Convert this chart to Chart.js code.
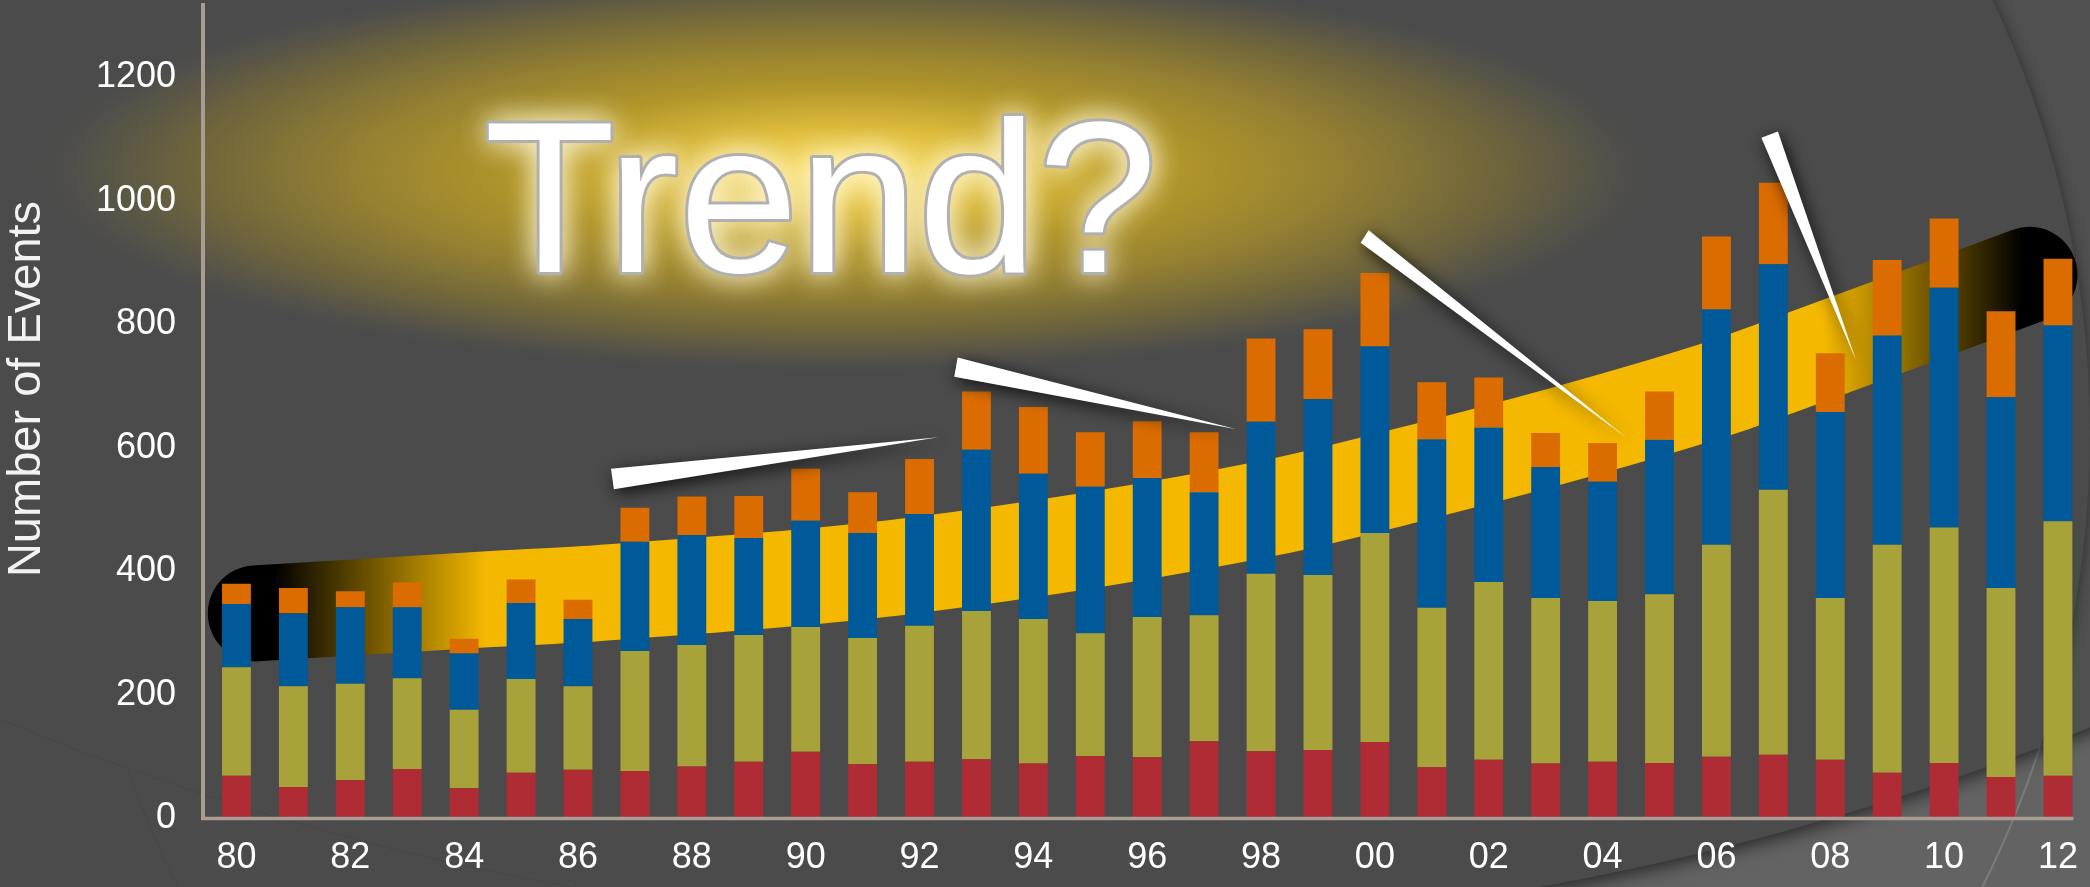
<!DOCTYPE html>
<html>
<head>
<meta charset="utf-8">
<title>Trend?</title>
<script src="https://cdn.jsdelivr.net/npm/chart.js@4.4.1/dist/chart.umd.min.js"></script>
<style>
  html, body { margin: 0; padding: 0; background: #4b4b4b; overflow: hidden; }
  canvas { display: block; }
</style>
</head>
<body>
<canvas id="eventsChart" width="2096" height="887"></canvas>
<script>
const years = ['80','81','82','83','84','85','86','87','88','89',
               '90','91','92','93','94','95','96','97','98','99',
               '00','01','02','03','04','05','06','07','08','09',
               '10','11','12'];

// stacked from the bottom up
const redEvents    = [69, 51, 62, 80, 49, 74, 79, 77, 84, 92, 108, 88, 92, 96, 89, 101, 99, 125, 109, 111, 124, 83, 95, 89, 92, 90, 100, 103, 95, 74, 90, 67, 69];
const oliveEvents  = [176, 163, 156, 147, 127, 152, 135, 194, 197, 205, 202, 204, 220, 240, 234, 199, 227, 204, 287, 283, 338, 258, 288, 268, 260, 273, 343, 429, 262, 369, 381, 306, 412];
const blueEvents   = [102, 118, 124, 115, 91, 123, 109, 177, 178, 157, 172, 170, 181, 261, 235, 237, 225, 199, 246, 285, 302, 273, 250, 212, 193, 250, 381, 365, 301, 339, 388, 309, 317];
const orangeEvents = [33, 41, 26, 40, 24, 38, 31, 55, 62, 68, 84, 66, 89, 94, 108, 88, 92, 97, 135, 113, 119, 92, 81, 55, 63, 78, 118, 132, 95, 122, 112, 139, 108];

const yTicks = [0, 200, 400, 600, 800, 1000, 1200];

// the hand drawn trend band (x = category index, y = events)
const trendX = [0.34, 4.45, 6.36, 11.83, 18.17, 20.54, 23.35, 26.17, 27.11, 31.5];
const trendY = [332, 355, 365, 409, 503, 555, 623, 700, 731, 880];

// callout wedges: two corners of the wide end, then the tip (category index, events)
const wedges = [
  [[6.58, 566], [6.63, 533], [12.33, 617]],
  [[12.67, 746], [12.61, 715], [17.57, 630]],
  [[19.89, 952], [19.75, 932], [24.41, 617]],
  [[26.79, 1102], [27.08, 1112], [28.45, 742]]
];

const bandYellow = '#f4b800';
const axisColor = '#a89d92';
const font = "'Liberation Sans', Arial, sans-serif";

Chart.defaults.font.family = font;

function bandColor(context) {
  const chart = context.chart;
  const { ctx, chartArea, scales } = chart;
  if (!chartArea || !scales.xb) return bandYellow;
  const xb = scales.xb;
  const a = xb.getPixelForValue(-0.5);
  const b = xb.getPixelForValue(32.5);
  const at = v => (xb.getPixelForValue(v) - a) / (b - a);
  const g = ctx.createLinearGradient(a, 0, b, 0);
  g.addColorStop(0, '#000');
  g.addColorStop(at(0.67), '#000');
  g.addColorStop(at(4.38), bandYellow);
  g.addColorStop(at(27.88), bandYellow);
  g.addColorStop(at(31.38), '#000');
  g.addColorStop(1, '#000');
  return g;
}

const backdrop = {
  id: 'backdrop',
  beforeDraw(chart) {
    const { ctx, width, height } = chart;
    ctx.save();
    ctx.fillStyle = '#4b4b4b';
    ctx.fillRect(0, 0, width, height);

    // big slide circle at the right, slightly lighter outside of it
    ctx.save();
    ctx.beginPath();
    ctx.rect(1700, 0, width - 1700, height);
    ctx.arc(1080, 433, 1010, 0, Math.PI * 2);
    ctx.clip('evenodd');
    ctx.fillStyle = '#505050';
    ctx.fillRect(0, 0, width, height);
    ctx.shadowColor = 'rgba(0,0,0,0.45)';
    ctx.shadowBlur = 14;
    ctx.beginPath();
    ctx.arc(1080, 433, 1010, 0, Math.PI * 2);
    ctx.fillStyle = '#4b4b4b';
    ctx.fill();
    ctx.restore();

    // lighter sweep at the bottom right
    ctx.save();
    ctx.beginPath();
    ctx.rect(1400, 0, width - 1400, height);
    ctx.arc(1055, -1815, 2745, 0, Math.PI * 2);
    ctx.clip('evenodd');
    ctx.fillStyle = '#636363';
    ctx.fillRect(0, 0, width, height);
    ctx.strokeStyle = 'rgba(140,140,140,0.6)';
    ctx.lineWidth = 2;
    ctx.beginPath();
    ctx.arc(1080, 433, 1010, 0, Math.PI * 2);
    ctx.stroke();
    ctx.shadowColor = 'rgba(0,0,0,0.6)';
    ctx.shadowBlur = 18;
    ctx.shadowOffsetY = 5;
    ctx.beginPath();
    ctx.arc(1055, -1815, 2745, 0, Math.PI * 2);
    ctx.fillStyle = '#4b4b4b';
    ctx.fill();
    ctx.restore();

    // yellow glow behind the title
    ctx.save();
    ctx.translate(845, 170);
    ctx.scale(4, 1);
    const g = ctx.createRadialGradient(0, 0, 0, 0, 0, 205);
    g.addColorStop(0, 'rgba(255,228,110,1)');
    g.addColorStop(0.2, 'rgba(222,188,60,1)');
    g.addColorStop(0.4, 'rgba(178,150,42,1)');
    g.addColorStop(0.6, 'rgba(148,128,50,1)');
    g.addColorStop(0.8, 'rgba(110,100,60,1)');
    g.addColorStop(0.92, 'rgba(86,84,72,0.9)');
    g.addColorStop(1, 'rgba(75,75,75,0)');
    ctx.fillStyle = g;
    ctx.beginPath();
    ctx.arc(0, 0, 205, 0, Math.PI * 2);
    ctx.fill();
    ctx.restore();

    // title
    ctx.font = '215px ' + font;
    ctx.textBaseline = 'alphabetic';
    ctx.textAlign = 'left';
    ctx.fillStyle = '#ffffff';
    ctx.shadowColor = 'rgba(255,248,215,0.95)';
    ctx.shadowBlur = 30;
    ctx.fillText('Trend?', 484, 272);
    ctx.fillText('Trend?', 484, 272);
    ctx.shadowColor = 'transparent';
    ctx.shadowBlur = 0;
    ctx.lineJoin = 'round';
    ctx.lineWidth = 6;
    ctx.strokeStyle = '#b0b0b0';
    ctx.strokeText('Trend?', 484, 272);
    ctx.fillText('Trend?', 484, 272);

    // y axis title
    ctx.translate(27, 389);
    ctx.rotate(-Math.PI / 2);
    ctx.font = '47px ' + font;
    ctx.textAlign = 'center';
    ctx.textBaseline = 'middle';
    ctx.fillStyle = '#f2f2f2';
    ctx.fillText('Number of Events', 0, 0);
    ctx.restore();
  },
  afterDatasetsDraw(chart) {
    const { ctx, chartArea, scales } = chart;
    const xb = scales.xb, y = scales.y;
    ctx.save();
    wedges.forEach(w => {
      ctx.beginPath();
      w.forEach(([i, v], k) => {
        const px = xb.getPixelForValue(i), py = y.getPixelForValue(v);
        if (k) ctx.lineTo(px, py); else ctx.moveTo(px, py);
      });
      ctx.closePath();
      ctx.shadowColor = 'rgba(0,0,0,0.8)';
      ctx.shadowBlur = 16;
      ctx.shadowOffsetX = 3;
      ctx.shadowOffsetY = 4;
      ctx.fillStyle = '#ffffff';
      ctx.fill();
    });
    ctx.shadowColor = 'transparent';

    const left = chartArea.left - 5;
    const bottom = y.getPixelForValue(0);
    ctx.strokeStyle = axisColor;
    ctx.lineWidth = 4;
    ctx.beginPath();
    ctx.moveTo(left, chartArea.top);
    ctx.lineTo(left, bottom + 1.5);
    ctx.stroke();
    ctx.lineWidth = 3.5;
    ctx.beginPath();
    ctx.moveTo(left - 2, bottom);
    ctx.lineTo(chartArea.right - 13, bottom);
    ctx.stroke();
    ctx.restore();
  }
};

const barStyle = { type: 'bar', stack: 'events', order: 1, grouped: false, barPercentage: 0.507, categoryPercentage: 1 };

new Chart(document.getElementById('eventsChart'), {
  data: {
    labels: years,
    datasets: [
      { ...barStyle, label: 'A', data: redEvents, backgroundColor: '#b02c35' },
      { ...barStyle, label: 'B', data: oliveEvents, backgroundColor: '#a8a23a' },
      { ...barStyle, label: 'C', data: blueEvents, backgroundColor: '#005a99' },
      { ...barStyle, label: 'D', data: orangeEvents, backgroundColor: '#db6c00' },
      {
        type: 'line',
        label: 'trend',
        xAxisID: 'xb',
        stack: 'band',
        order: 2,
        data: trendX.map((x, i) => ({ x, y: trendY[i] })),
        borderColor: bandColor,
        borderWidth: 96,
        borderCapStyle: 'round',
        borderJoinStyle: 'round',
        cubicInterpolationMode: 'monotone',
        pointRadius: 0,
        fill: false,
        clip: false
      }
    ]
  },
  options: {
    responsive: false,
    animation: false,
    events: [],
    layout: { padding: { top: 3, right: 2, left: 0, bottom: 0 } },
    plugins: {
      legend: { display: false },
      tooltip: { enabled: false }
    },
    scales: {
      x: {
        type: 'category',
        stacked: true,
        offset: true,
        grid: { display: false, drawTicks: false },
        border: { display: false },
        ticks: {
          color: '#ffffff',
          font: { size: 36 },
          padding: 18,
          autoSkip: false,
          maxRotation: 0,
          callback: (v, i) => (i % 2 === 0 ? years[i] : '')
        },
        afterFit: s => { s.height = 68.5; }
      },
      xb: {
        type: 'linear',
        display: false,
        min: -0.5,
        max: 32.5
      },
      y: {
        stacked: true,
        min: 0,
        max: 1320,
        grid: { display: false, drawTicks: false },
        border: { display: false },
        ticks: {
          color: '#ffffff',
          font: { size: 36 },
          padding: 32,
          callback: v => String(v)
        },
        afterBuildTicks: s => { s.ticks = yTicks.map(v => ({ value: v })); },
        afterFit: s => { s.width = 208; s.paddingTop = 0; s.paddingBottom = 0; }
      }
    }
  },
  plugins: [backdrop]
});
</script>
</body>
</html>
